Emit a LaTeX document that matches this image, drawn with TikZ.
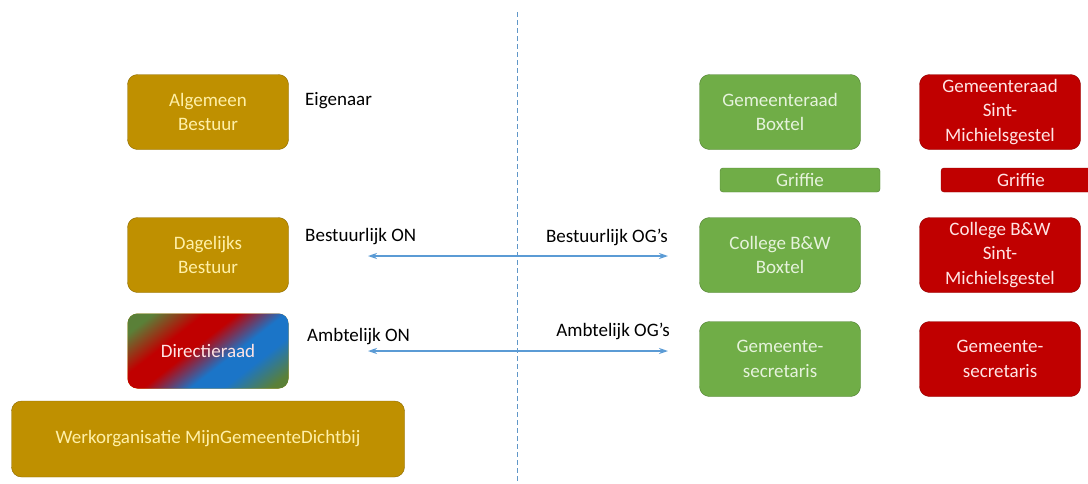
\documentclass[tikz,border=0pt]{standalone}
\usepackage{fontspec}
\setmainfont{Carlito}
\definecolor{gold}{HTML}{BF9000}
\definecolor{goldline}{HTML}{8C6A00}
\definecolor{goldtext}{HTML}{FFF0A8}
\definecolor{boxgreen}{HTML}{70AD47}
\definecolor{greenline}{HTML}{507E32}
\definecolor{greentext}{HTML}{E6F3DC}
\definecolor{boxred}{HTML}{C00000}
\definecolor{redline}{HTML}{8E0000}
\definecolor{redtext}{HTML}{FFE4E4}
\definecolor{arrowblue}{HTML}{5B9BD5}
\definecolor{mixgreen}{HTML}{5A8038}
\definecolor{mixblue}{HTML}{1B75C8}
\pgfdeclarehorizontalshading{dirshade}{100bp}{color(0bp)=(mixgreen);color(22bp)=(mixgreen);color(36bp)=(boxred);color(45bp)=(boxred);color(58bp)=(mixblue);color(67bp)=(mixblue);color(80bp)=(mixgreen);color(100bp)=(mixgreen)}
\usetikzlibrary{arrows.meta}

\begin{document}
\begin{tikzpicture}[x=1pt,y=-1pt]
			\useasboundingbox (0,0) rectangle (1088,483);
			
			% dashed middle line
			\draw[arrowblue!85!gray,line width=0.8pt,dash pattern=on 5pt off 3pt] (517,12) -- (517,483);
			
			\begin{scope}[every node/.style={rounded corners=10pt,draw=goldline,fill=gold,text=goldtext,
				minimum width=161pt,minimum height=75pt,align=center,font=\fontsize{19}{24.5}\selectfont}]
				\node (AB) at (208,112) {Algemeen\\Bestuur};
				\node (DB) at (208,255) {Dagelijks\\Bestuur};
				\node (WO) at (208,439) [minimum width=393pt,minimum height=76pt] {Werkorganisatie MijnGemeenteDichtbij};
				\node (DR) at (208,351) [draw=none,shading=dirshade,shading angle=-52,text=redtext] {Directieraad};
			\end{scope}
			
			\begin{scope}[every node/.style={rounded corners=10pt,draw=greenline,fill=boxgreen,text=greentext,
				minimum width=161pt,minimum height=75pt,align=center,font=\fontsize{19}{24.5}\selectfont}]
				\node (GRB) at (780,112) {Gemeenteraad\\Boxtel};
				\node (GFB) at (800,180) [rounded corners=3pt,minimum width=160pt,minimum height=24pt] {Griffie};
				\node (CBB) at (780,255) {College B\&W\\Boxtel};
				\node (GSB) at (780,359) {Gemeente-\\secretaris};
			\end{scope}
			
			\begin{scope}[every node/.style={rounded corners=10pt,draw=redline,fill=boxred,text=redtext,
				minimum width=161pt,minimum height=75pt,align=center,font=\fontsize{19}{24.5}\selectfont}]
				\node (GRS) at (1000,112) {Gemeenteraad\\Sint-\\Michielsgestel};
				\node (GFS) at (1021,180) [rounded corners=3pt,minimum width=160pt,minimum height=24pt] {Griffie};
				\node (CBS) at (1000,255) {College B\&W\\Sint-\\Michielsgestel};
				\node (GSS) at (1000,359) {Gemeente-\\secretaris};
			\end{scope}
			
			\begin{scope}[every node/.style={font=\fontsize{19}{23}\selectfont,inner sep=0pt}]
				\node (EIG) at (305,101) [anchor=west] {Eigenaar};
				\node (BON) at (305,237) [anchor=west] {Bestuurlijk ON};
				\node (BOG) at (668,237) [anchor=east] {Bestuurlijk OG’s};
				\node (AON) at (307,337) [anchor=west] {Ambtelijk ON};
				\node (AOG) at (670,331) [anchor=east] {Ambtelijk OG’s};
			\end{scope}
			
			\coordinate (bl) at (368,256);
			\coordinate (br) at (668,256);
			\coordinate (al) at (368,351);
			\coordinate (ar) at (668,351);
			\begin{scope}[arrowblue,line width=1.3pt,{Stealth[length=9pt,width=6pt]}-{Stealth[length=9pt,width=6pt]}]
				\path (bl) edge (br);
				\path (al) edge (ar);
			\end{scope}
		\end{tikzpicture}
\end{document}
